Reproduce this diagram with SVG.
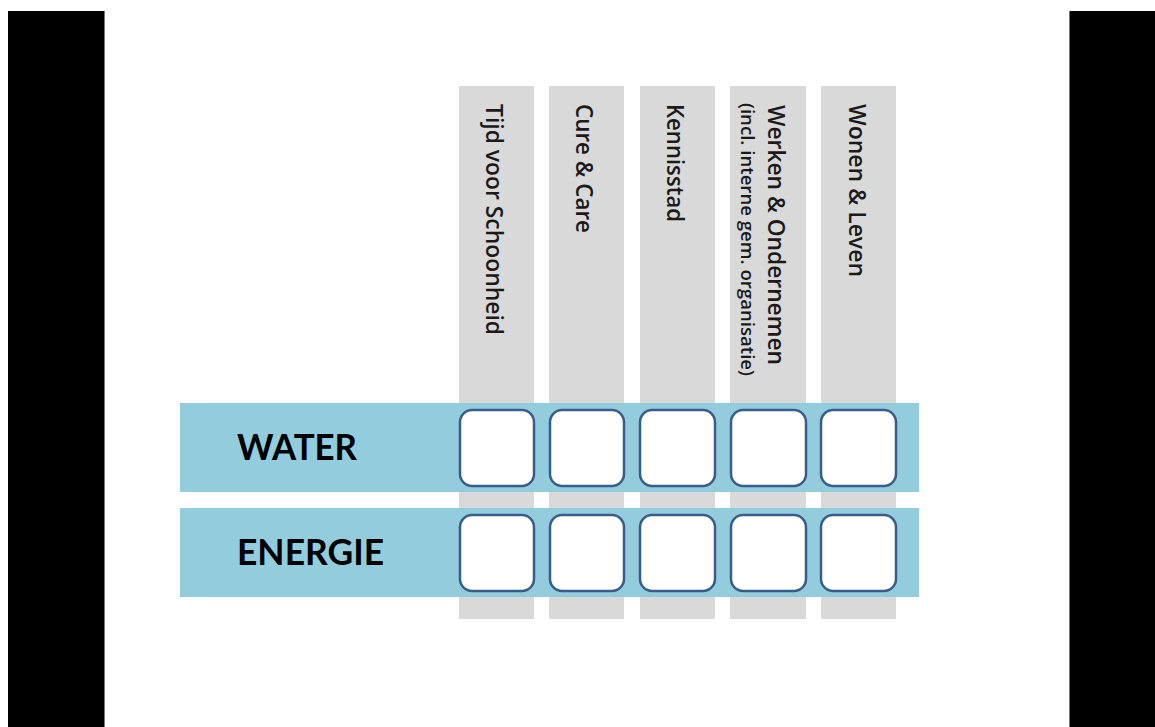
<svg xmlns="http://www.w3.org/2000/svg" width="1155" height="727" viewBox="0 0 1155 727">
<style>
.frame{fill:#000}
.col{fill:#d9d9d9}
.band{fill:#93cddd}
.cell{fill:#fff;stroke:#385d8a;stroke-width:2.5}
.vt{font-family:"Open Sans",Lato,"Liberation Sans",sans-serif;font-size:24px;font-weight:600;fill:#1a1a1a}
.vs{font-family:"Open Sans",Lato,"Liberation Sans",sans-serif;font-size:18px;font-weight:600;fill:#1a1a1a}
.rt{font-family:Lato,"Open Sans","Liberation Sans",sans-serif;font-size:36px;font-weight:bold;fill:#000}
</style>
<rect width="1155" height="727" fill="#fff"/>
<g id="frame">
<rect class="frame" x="8" y="11" width="96" height="716"/>
<rect x="104" y="11" width="1" height="716" fill="#777"/>
<rect class="frame" x="1070" y="11" width="85" height="716"/>
<rect x="1069" y="11" width="1" height="716" fill="#777"/>
</g>
<g id="col-tijd"><rect class="col" x="459" y="86" width="75" height="533"/><text class="vt" transform="translate(486,104) rotate(90)" textLength="231" lengthAdjust="spacingAndGlyphs">Tijd voor Schoonheid</text></g>
<g id="col-cure"><rect class="col" x="549" y="86" width="75" height="533"/><text class="vt" transform="translate(576,104) rotate(90)" textLength="129" lengthAdjust="spacingAndGlyphs">Cure &amp; Care</text></g>
<g id="col-kennis"><rect class="col" x="640" y="86" width="75" height="533"/><text class="vt" transform="translate(667,104) rotate(90)" textLength="118" lengthAdjust="spacingAndGlyphs">Kennisstad</text></g>
<g id="col-werken"><rect class="col" x="730" y="86" width="76" height="533"/><text class="vt" transform="translate(768,105) rotate(90)" textLength="260" lengthAdjust="spacingAndGlyphs">Werken &amp; Ondernemen</text><text class="vs" transform="translate(741,103) rotate(90)" textLength="273" lengthAdjust="spacingAndGlyphs">(incl. interne gem. organisatie)</text></g>
<g id="col-wonen"><rect class="col" x="821" y="86" width="75" height="533"/><text class="vt" transform="translate(849,104) rotate(90)" textLength="173" lengthAdjust="spacingAndGlyphs">Wonen &amp; Leven</text></g>
<g id="row-water"><rect class="band" x="180" y="403" width="739" height="89"/><text class="rt" x="237" y="459.5" textLength="120" lengthAdjust="spacingAndGlyphs">WATER</text></g>
<g id="row-energie"><rect class="band" x="180" y="508" width="739" height="89"/><text class="rt" x="237" y="564.5" textLength="147" lengthAdjust="spacingAndGlyphs">ENERGIE</text></g>
<g id="cells-water">
<rect class="cell" x="460" y="410" width="74" height="76" rx="12"/>
<rect class="cell" x="550" y="410" width="74" height="76" rx="12"/>
<rect class="cell" x="640" y="410" width="75" height="76" rx="12"/>
<rect class="cell" x="731" y="410" width="75" height="76" rx="12"/>
<rect class="cell" x="821" y="410" width="75" height="76" rx="12"/>
</g>
<g id="cells-energie">
<rect class="cell" x="460" y="515" width="74" height="76" rx="12"/>
<rect class="cell" x="550" y="515" width="74" height="76" rx="12"/>
<rect class="cell" x="640" y="515" width="75" height="76" rx="12"/>
<rect class="cell" x="731" y="515" width="75" height="76" rx="12"/>
<rect class="cell" x="821" y="515" width="75" height="76" rx="12"/>
</g>
</svg>
